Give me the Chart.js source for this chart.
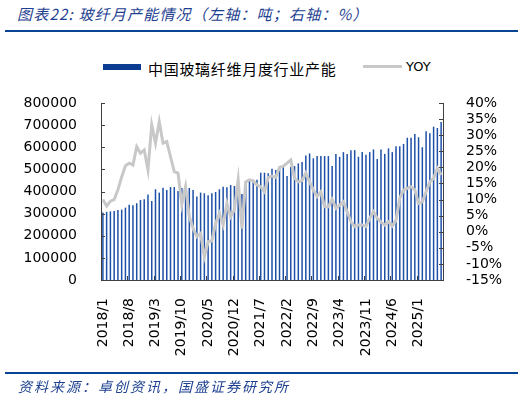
<!DOCTYPE html>
<html>
<head>
<meta charset="utf-8">
<script src="https://cdn.jsdelivr.net/npm/chart.js@4.4.0/dist/chart.umd.min.js"></script>
<style>
    body { margin: 0; background: #fff; }
    #wrap { position: relative; width: 526px; height: 398px; overflow: hidden; }
    #chart { position: absolute; left: 0; top: 0; }
    .title { position: absolute; left: 17px; top: 3px; font: italic 15px "Noto Sans CJK SC"; color: #1e4191; white-space: nowrap; letter-spacing: 1.2px; }
    .rule { position: absolute; left: 5px; width: 513px; height: 2px; background: #0a4595; }
    .source { position: absolute; left: 18px; top: 376px; font: italic 14px "Noto Sans CJK SC"; color: #1e4191; white-space: nowrap; letter-spacing: 2px; }
    .lg-bar { position: absolute; left: 103px; top: 64px; width: 38px; height: 6px; background: #0a3d91; }
    .lg-bar-text { position: absolute; left: 148px; top: 58px; font: 15px "Noto Sans CJK SC"; color: #000; white-space: nowrap; letter-spacing: 0.7px; }
    .lg-line { position: absolute; left: 363px; top: 65px; width: 39px; height: 3px; background: #c8c8c8; }
    .lg-line-text { position: absolute; left: 406px; top: 59px; font: 13px "DejaVu Sans"; color: #000; }
</style>
</head>
<body>
<div id="wrap">
    <div class="title">图表22:  玻纤月产能情况（左轴：吨；右轴：%）</div>
    <div class="rule" style="top:30px"></div>
    <div class="lg-bar"></div>
    <div class="lg-bar-text">中国玻璃纤维月度行业产能</div>
    <div class="lg-line"></div>
    <div class="lg-line-text">YOY</div>
    <canvas id="chart" width="526" height="398"></canvas>
    <div class="rule" style="top:372px"></div>
    <div class="source">资料来源：卓创资讯，国盛证券研究所</div>
</div>
<script>
// Categories: 2018/1 .. 2025/7
const months = [];
for (let y = 2018; y <= 2025; y++) {
    for (let m = 1; m <= 12; m++) {
        if (y === 2025 && m > 7) break;
        months.push(y + '/' + m);
    }
}

// 中国玻璃纤维月度行业产能 (吨)
const capacity = [
    305000, 308000, 310000, 312000, 316000, 318000, 327000, 340000, 338000, 347000, 362000, 365000,
    386000, 357000, 410000, 395000, 417000, 407000, 420000, 420000, 402000, 416000, 405000, 416000,
    407000, 377000, 395000, 392000, 383000, 392000, 398000, 410000, 422000, 419000, 429000, 425000,
    434000, 389000, 431000, 455000, 447000, 453000, 485000, 485000, 482000, 503000, 497000, 515000,
    518000, 470000, 512000, 515000, 527000, 533000, 563000, 572000, 550000, 560000, 560000, 560000,
    560000, 515000, 569000, 557000, 578000, 569000, 587000, 587000, 557000, 578000, 566000, 578000,
    590000, 547000, 590000, 570000, 595000, 578000, 605000, 605000, 615000, 643000, 643000, 660000,
    645000, 600000, 672000, 663000, 693000, 687000, 714000
];

// YOY (%)
const yoy = [
    10.0, 8.0, 9.5, 10.0, 13.0, 17.0, 20.5, 21.3, 20.7, 26.4, 24.4, 25.4,
    19.2, 33.2, 27.5, 34.2, 27.5, 28.0, 23.3, 18.7, 18.2, 8.5, 14.0, 4.7,
    1.0, -1.5, -0.5, -7.8, -3.1, -2.8, 2.6, 5.7, 2.1, 8.8, 4.7, 6.8,
    16.1, 1.0, 15.5, 16.1, 15.8, 14.5, 14.0, 12.4, 16.9, 17.3, 16.9, 20.0,
    20.4, 21.3, 22.3, 16.6, 15.5, 15.9, 18.3, 15.5, 13.0, 10.9, 12.4, 7.8,
    7.8, 10.1, 7.3, 8.3, 9.3, 6.2, 3.1, 1.6, 2.1, 2.1, 1.6, 4.2,
    6.2, 4.2, 3.0, 2.1, 3.1, 1.8, 3.6, 10.4, 13.0, 13.5, 14.0, 13.0,
    8.8, 9.3, 12.4, 15.5, 16.6, 19.7, 17.6
];

const labelEvery = 7;
const axisColor = '#404040';

// Tick marks drawn inward like the original
const innerTicks = {
    id: 'innerTicks',
    afterDraw(chart) {
        const ctx = chart.ctx;
        const area = chart.chartArea;
        const x = chart.scales.x, yl = chart.scales.y, yr = chart.scales.y1;
        ctx.save();
        ctx.strokeStyle = axisColor;
        ctx.lineWidth = 1;
        ctx.beginPath();
        yl.ticks.forEach(t => {
            const py = Math.round(yl.getPixelForValue(t.value)) + 0.5;
            ctx.moveTo(area.left, py); ctx.lineTo(area.left + 4, py);
        });
        yr.ticks.forEach(t => {
            const py = Math.round(yr.getPixelForValue(t.value)) + 0.5;
            ctx.moveTo(area.right - 4, py); ctx.lineTo(area.right, py);
        });
        const step = (area.right - area.left) / months.length;
        for (let i = labelEvery; i < months.length; i += labelEvery) {
            const px = Math.round(area.left + i * step) + 0.5;
            ctx.moveTo(px, area.bottom); ctx.lineTo(px, area.bottom - 4);
        }
        ctx.stroke();
        ctx.restore();
    }
};

new Chart(document.getElementById('chart'), {
    data: {
        labels: months,
        datasets: [
            {
                type: 'line',
                label: 'YOY',
                data: yoy,
                yAxisID: 'y1',
                borderColor: '#c8c8c8',
                borderWidth: 3,
                pointRadius: 0,
                tension: 0,
                order: 1
            },
            {
                type: 'bar',
                label: '中国玻璃纤维月度行业产能',
                data: capacity,
                yAxisID: 'y',
                backgroundColor: '#1d50a8',
                barPercentage: 0.4,
                categoryPercentage: 1,
                order: 2
            }
        ]
    },
    options: {
        responsive: false,
        animation: false,
        layout: { padding: { top: 103, left: 0, right: 0, bottom: 0 } },
        plugins: { legend: { display: false }, tooltip: { enabled: false } },
        scales: {
            x: {
                grid: { display: false },
                border: { display: true, color: axisColor },
                afterFit: s => { s.height = 118; },
                ticks: {
                    autoSkip: false,
                    maxRotation: 90,
                    minRotation: 90,
                    padding: 10,
                    color: '#000',
                    font: { family: 'DejaVu Sans', size: 14 },
                    callback: (v, i) => (i % labelEvery === 0 ? months[i] : null)
                }
            },
            y: {
                position: 'left',
                min: 0,
                max: 800000,
                grid: { display: false },
                border: { display: true, color: axisColor },
                afterFit: s => { s.width = 101; },
                ticks: {
                    stepSize: 100000,
                    autoSkip: false,
                    padding: 16,
                    color: '#000',
                    font: { family: 'DejaVu Sans', size: 14 },
                    callback: v => String(v)
                }
            },
            y1: {
                position: 'right',
                min: -15,
                max: 40,
                grid: { display: false },
                border: { display: true, color: axisColor },
                afterFit: s => { s.width = 83; },
                ticks: {
                    stepSize: 5,
                    autoSkip: false,
                    padding: 15,
                    color: '#000',
                    font: { family: 'DejaVu Sans', size: 14 },
                    callback: v => v + '%'
                }
            }
        }
    },
    plugins: [innerTicks]
});
</script>
</body>
</html>
